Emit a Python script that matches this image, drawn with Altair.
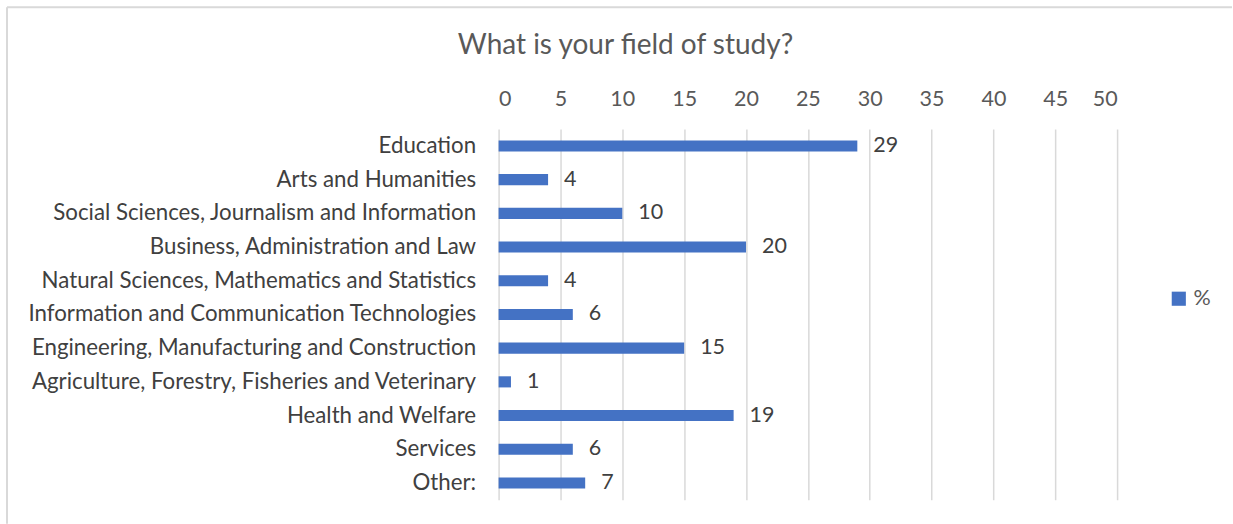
import altair as alt
import pandas as pd

categories = [
    "Education",
    "Arts and Humanities",
    "Social Sciences, Journalism and Information",
    "Business, Administration and Law",
    "Natural Sciences, Mathematics and Statistics",
    "Information and Communication Technologies",
    "Engineering, Manufacturing and Construction",
    "Agriculture, Forestry, Fisheries and Veterinary",
    "Health and Welfare",
    "Services",
    "Other:",
]
values = [29, 4, 10, 20, 4, 6, 15, 1, 19, 6, 7]
series = ["%"] * len(categories)
x_ticks = [0, 5, 10, 15, 20, 25, 30, 35, 40, 45, 50]

df = pd.DataFrame({"cat": categories, "val": values, "series": series})

FONT = "Lato"
BLUE = "#4472C4"
FS = 21.5

y_enc = alt.Y(
    "cat:N",
    sort=categories,
    scale=alt.Scale(paddingInner=0.67, paddingOuter=0.335),
    axis=alt.Axis(
        title=None, labelFontSize=22.3, labelColor="#404040", labelPadding=23,
        ticks=False, domain=False, labelFont=FONT, labelLimit=600,
    ),
)
x_enc = alt.X(
    "val:Q",
    scale=alt.Scale(domain=[0, 50], nice=False),
    axis=alt.Axis(
        orient="top", values=x_ticks, title=None, grid=True, gridColor="#d9d9d9",
        gridWidth=1.5, ticks=False, domain=False, labelPadding=19,
        labelFontSize=FS, labelColor="#595959", labelFont=FONT,
    ),
)

base = alt.Chart(df)
bars = base.mark_bar().encode(
    y=y_enc,
    x=x_enc,
    color=alt.Color(
        "series:N",
        scale=alt.Scale(range=[BLUE]),
        legend=alt.Legend(
            title=None, orient="none", legendX=670, legendY=159,
            symbolType="square", symbolSize=200, symbolStrokeWidth=0,
            labelFontSize=FS, labelColor="#595959", labelFont=FONT,
        ),
    ),
)
labels = base.mark_text(
    align="left", dx=16, fontSize=FS, color="#404040", font=FONT
).encode(y=alt.Y("cat:N", sort=categories), x="val:Q", text="val:Q")

frame_df = pd.DataFrame({"a": [0]})
frame_left = alt.Chart(frame_df).mark_rule(color="#d9d9d9", strokeWidth=2).encode(
    x=alt.value(-492), y=alt.value(-122), y2=alt.value(395)
)
frame_top = alt.Chart(frame_df).mark_rule(color="#d9d9d9", strokeWidth=2).encode(
    y=alt.value(-122), x=alt.value(-492), x2=alt.value(734)
)

chart = alt.layer(frame_left, frame_top, bars, labels).properties(
    width=619,
    height=371,
    padding={"left": 6, "top": 6, "right": 0, "bottom": 0},
    title=alt.TitleParams(
        "What is your field of study?", fontSize=28, fontWeight="normal",
        color="#595959", font=FONT, anchor="middle", frame="bounds", offset=-54,
        dx=6,
    ),
).configure_view(stroke=None)

chart.save("out.html", embed_options={"renderer": "svg", "actions": False})
